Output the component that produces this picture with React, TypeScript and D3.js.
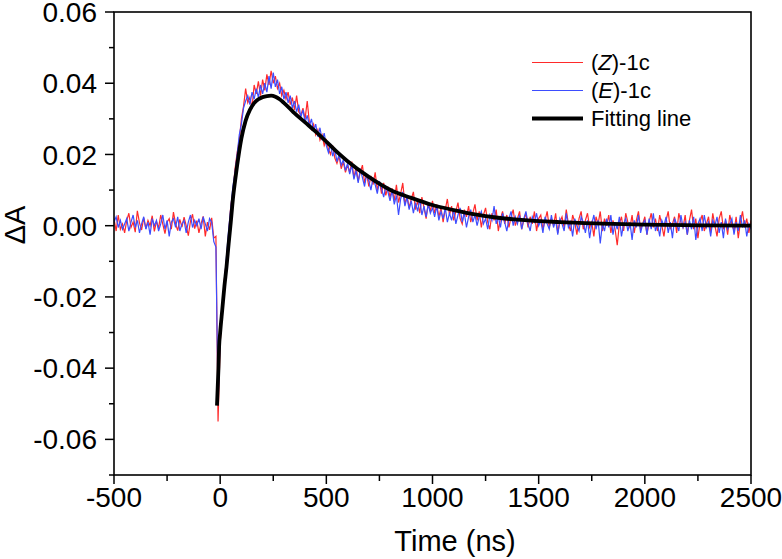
import React from "react";
import * as d3 from "d3";

// Sample times (ns), 10 ns step
const timeNs: number[] = d3.range(-500, 2501, 10);

// (Z)-1c transient absorption (red)
const zSignal: number[] = [
  // -500 .. -30
  0.0020, -0.0015, 0.0030, -0.0010, 0.0005, -0.0020, 0.0015, 0.0035, -0.0005, 0.0010,
  -0.0018, 0.0042, 0.0008, -0.0012, 0.0022, -0.0008, 0.0015, 0.0000, 0.0028, -0.0016,
  0.0012, -0.0006, 0.0030, 0.0004, -0.0022, 0.0010, 0.0020, -0.0010, 0.0038, 0.0006,
  -0.0014, 0.0018, -0.0004, 0.0024, 0.0000, -0.0028, 0.0012, 0.0032, -0.0008, 0.0014,
  -0.0020, 0.0006, 0.0026, -0.0030, 0.0010, -0.0012, 0.0022, -0.0035,
  // -20, -10
  -0.0030, -0.0550,
  // 0 .. 600
  -0.0330, -0.0235, -0.0150, -0.0095, -0.0020, 0.0055, 0.0095, 0.0160, 0.0205, 0.0240,
  0.0300, 0.0335, 0.0385, 0.0345, 0.0360, 0.0330, 0.0395, 0.0370, 0.0405, 0.0365,
  0.0410, 0.0380, 0.0425, 0.0395, 0.0435, 0.0400, 0.0420, 0.0385, 0.0400, 0.0365,
  0.0380, 0.0355, 0.0375, 0.0340, 0.0360, 0.0325, 0.0365, 0.0320, 0.0310, 0.0330,
  0.0300, 0.0350, 0.0290, 0.0270, 0.0285, 0.0255, 0.0270, 0.0240, 0.0255, 0.0225,
  0.0240, 0.0215, 0.0200, 0.0225, 0.0190, 0.0175, 0.0195, 0.0160, 0.0180, 0.0150,
  0.0170,
  // 610 .. 1000
  0.0150, 0.0180, 0.0135, 0.0165, 0.0125, 0.0150, 0.0170, 0.0120, 0.0145, 0.0110,
  0.0140, 0.0115, 0.0150, 0.0100, 0.0125, 0.0090, 0.0120, 0.0085, 0.0110, 0.0080,
  0.0105, 0.0070, 0.0115, 0.0065, 0.0090, 0.0120, 0.0060, 0.0085, 0.0050, 0.0075,
  0.0095, 0.0045, 0.0070, 0.0035, 0.0080, 0.0050, 0.0020, 0.0065, 0.0040, 0.0070,
  // 1010 .. 1500
  0.0035, 0.0060, 0.0025, 0.0050, 0.0010, 0.0045, 0.0075, 0.0030, 0.0055, 0.0015,
  0.0040, 0.0065, 0.0020, 0.0005, 0.0045, 0.0025, 0.0055, 0.0010, 0.0035, 0.0060,
  0.0015, 0.0040, -0.0005, 0.0030, 0.0050, 0.0010, -0.0010, 0.0035, 0.0015, 0.0045,
  -0.0015, 0.0020, 0.0040, 0.0005, 0.0030, -0.0005, 0.0025, 0.0045, 0.0000, 0.0020,
  0.0040, -0.0010, 0.0015, 0.0035, -0.0005, 0.0025, 0.0005, 0.0040, -0.0015, 0.0020,
  // 1510 .. 2500
  0.0030, -0.0010, 0.0015, 0.0040, -0.0005, 0.0020, 0.0000, 0.0035, -0.0020, 0.0010,
  0.0025, -0.0005, 0.0045, 0.0005, -0.0015, 0.0030, 0.0010, -0.0025, 0.0020, 0.0040,
  -0.0010, 0.0015, 0.0035, -0.0005, 0.0010, -0.0030, 0.0025, 0.0005, 0.0040, -0.0015,
  0.0020, 0.0000, 0.0030, -0.0020, 0.0015, -0.0010, -0.0055, 0.0005, 0.0025, -0.0015,
  0.0035, 0.0010, -0.0005, 0.0030, -0.0020, 0.0015, 0.0040, -0.0010, 0.0005, 0.0025,
  -0.0025, 0.0010, 0.0035, -0.0005, 0.0020, -0.0015, 0.0030, 0.0000, -0.0030, 0.0015,
  0.0040, -0.0010, 0.0005, 0.0025, -0.0020, 0.0035, 0.0010, -0.0005, 0.0030, -0.0025,
  0.0015, 0.0045, -0.0010, 0.0020, -0.0035, 0.0010, 0.0030, -0.0015, 0.0005, 0.0025,
  -0.0020, 0.0035, 0.0000, -0.0030, 0.0020, 0.0040, -0.0010, 0.0015, -0.0025, 0.0030,
  0.0005, -0.0015, 0.0025, -0.0035, 0.0010, 0.0040, -0.0005, 0.0020, -0.0020, 0.0015,
];

// (E)-1c transient absorption (blue)
const eSignal: number[] = [
  // -500 .. -30
  0.0010, 0.0025, -0.0005, 0.0015, -0.0010, 0.0005, 0.0020, -0.0015, 0.0010, 0.0030,
  -0.0005, 0.0015, -0.0020, 0.0005, 0.0025, -0.0010, 0.0010, -0.0025, 0.0020, 0.0000,
  0.0015, -0.0015, 0.0005, 0.0030, -0.0010, 0.0015, -0.0030, 0.0010, 0.0020, -0.0005,
  0.0025, -0.0015, 0.0005, 0.0015, -0.0020, 0.0010, 0.0030, -0.0005, 0.0015, 0.0000,
  0.0020, -0.0010, 0.0025, 0.0005, -0.0015, 0.0020, 0.0010, -0.0045,
  // -20, -10
  -0.0060, -0.0500,
  // 0 .. 600
  -0.0310, -0.0225, -0.0160, -0.0085, -0.0010, 0.0050, 0.0110, 0.0150, 0.0200, 0.0255,
  0.0285, 0.0330, 0.0350, 0.0365, 0.0340, 0.0375, 0.0355, 0.0385, 0.0360, 0.0395,
  0.0370, 0.0400, 0.0375, 0.0420, 0.0385, 0.0430, 0.0390, 0.0410, 0.0370, 0.0390,
  0.0355, 0.0375, 0.0345, 0.0365, 0.0330, 0.0350, 0.0320, 0.0340, 0.0305, 0.0325,
  0.0290, 0.0310, 0.0280, 0.0300, 0.0265, 0.0285, 0.0250, 0.0275, 0.0240, 0.0260,
  0.0225, 0.0205, 0.0230, 0.0195, 0.0215, 0.0180, 0.0200, 0.0170, 0.0185, 0.0155,
  0.0175,
  // 610 .. 1000
  0.0145, 0.0170, 0.0130, 0.0155, 0.0120, 0.0160, 0.0135, 0.0110, 0.0145, 0.0125,
  0.0100, 0.0135, 0.0115, 0.0090, 0.0125, 0.0105, 0.0080, 0.0110, 0.0095, 0.0070,
  0.0100, 0.0060, 0.0085, 0.0030, 0.0075, 0.0095, 0.0055, 0.0080, 0.0045, 0.0070,
  0.0035, 0.0065, 0.0040, 0.0075, 0.0030, 0.0055, 0.0025, 0.0060, 0.0035, 0.0050,
  // 1010 .. 1500
  0.0025, 0.0055, 0.0015, 0.0040, 0.0020, 0.0050, 0.0010, 0.0035, 0.0015, 0.0045,
  0.0005, 0.0030, 0.0050, 0.0010, 0.0035, -0.0005, 0.0025, 0.0045, 0.0010, 0.0030,
  0.0000, 0.0025, 0.0040, 0.0005, 0.0020, -0.0010, 0.0030, 0.0015, 0.0055, 0.0005,
  0.0025, -0.0005, 0.0035, 0.0010, -0.0015, 0.0020, 0.0040, 0.0000, 0.0025, 0.0005,
  0.0030, -0.0010, 0.0020, 0.0040, 0.0005, -0.0015, 0.0025, 0.0010, 0.0035, 0.0000,
  // 1510 .. 2500
  0.0015, -0.0020, 0.0025, 0.0005, -0.0010, 0.0030, -0.0005, 0.0015, -0.0025, 0.0020,
  0.0005, -0.0015, 0.0035, -0.0005, 0.0010, -0.0030, 0.0020, 0.0000, -0.0015, 0.0025,
  0.0010, -0.0020, 0.0015, -0.0035, 0.0005, 0.0030, -0.0010, 0.0015, -0.0050, 0.0005,
  -0.0015, 0.0020, -0.0005, 0.0030, -0.0025, 0.0010, -0.0010, 0.0025, -0.0030, 0.0005,
  0.0020, -0.0015, 0.0010, -0.0040, 0.0015, -0.0005, 0.0030, -0.0020, 0.0005, 0.0015,
  -0.0025, 0.0020, -0.0010, 0.0035, -0.0015, 0.0005, -0.0030, 0.0015, 0.0000, 0.0025,
  -0.0020, 0.0010, -0.0035, 0.0020, 0.0005, -0.0015, 0.0030, -0.0005, 0.0010, -0.0025,
  0.0015, -0.0010, 0.0025, -0.0040, 0.0005, 0.0020, -0.0015, 0.0030, -0.0005, 0.0010,
  -0.0030, 0.0015, 0.0000, 0.0025, -0.0020, 0.0010, -0.0035, 0.0020, -0.0010, 0.0005,
  0.0020, -0.0025, 0.0010, -0.0015, 0.0030, -0.0005, 0.0015, -0.0030, 0.0005, -0.0010,
];

// Fitting line
const fitTime: number[] = [
  -15, -8, -5, 0, 10, 20, 30, 40, 50, 60, 70, 80, 90, 100, 120, 140, 160, 180, 200, 220,
  240, 260, 280, 300, 325, 350, 400, 450, 500, 550, 600, 700, 800, 900, 1000, 1100, 1200,
  1300, 1400, 1600, 1800, 2000, 2250, 2500,
];
const fitValue: number[] = [
  -0.0505, -0.040, -0.034, -0.030, -0.0235, -0.017, -0.0115, -0.005, 0.001, 0.0075,
  0.0125, 0.017, 0.021, 0.0245, 0.0295, 0.0325, 0.0344, 0.0355, 0.0361, 0.0364,
  0.0365, 0.0362, 0.0355, 0.0345, 0.0331, 0.0316, 0.0290, 0.0264, 0.0236, 0.0207,
  0.0181, 0.0137, 0.0101, 0.0078, 0.0058, 0.0044, 0.0032, 0.0023, 0.0017, 0.0010,
  0.0006, 0.0003, 0.0001, 0.0000,
];

const xTicks: number[] = [-500, 0, 500, 1000, 1500, 2000, 2500];
const xMinorTicks: number[] = [-250, 250, 750, 1250, 1750, 2250];
const yTicks: number[] = [-0.06, -0.04, -0.02, 0.0, 0.02, 0.04, 0.06];
const yMinorTicks: number[] = [-0.07, -0.05, -0.03, -0.01, 0.01, 0.03, 0.05];

const seriesNames = ["Z", "E"];
const seriesColors = ["#ff2a2a", "#3d4dff"];
const fitLabel = "Fitting line";
const xTitle = "Time (ns)";
const yTitle = "\u0394A";

const W = 782;
const H = 559;
const M = { left: 114, right: 751, top: 12, bottom: 475 };
const FONT = "'Liberation Sans', Arial, Helvetica, sans-serif";

export default function App() {
  const x = d3.scaleLinear().domain([-500, 2500]).range([M.left, M.right]);
  const y = d3.scaleLinear().domain([-0.07, 0.06]).range([M.bottom, M.top]);

  const dataLine = d3
    .line<number>()
    .x((_, i) => x(timeNs[i]))
    .y((d) => y(d));

  const fitLine = d3
    .line<number>()
    .x((_, i) => x(fitTime[i]))
    .y((d) => y(d))
    .curve(d3.curveMonotoneX);

  const legendX0 = 532;
  const legendX1 = 583;
  const legendRows = [62.5, 90.5, 118.5];

  return (
    <svg
      width={W}
      height={H}
      style={{ position: "absolute", left: 0, top: 0, background: "#fff" }}
      fontFamily={FONT}
    >
      <defs>
        <clipPath id="plotClip">
          <rect x={M.left} y={M.top} width={M.right - M.left} height={M.bottom - M.top} />
        </clipPath>
      </defs>

      <g clipPath="url(#plotClip)">
        <path d={dataLine(zSignal) || ""} fill="none" stroke={seriesColors[0]} strokeWidth={1.2} />
        <path d={dataLine(eSignal) || ""} fill="none" stroke={seriesColors[1]} strokeWidth={1.2} />
        <path d={fitLine(fitValue) || ""} fill="none" stroke="#000" strokeWidth={3.8} />
      </g>

      {/* frame */}
      <rect
        x={M.left}
        y={M.top}
        width={M.right - M.left}
        height={M.bottom - M.top}
        fill="none"
        stroke="#000"
        strokeWidth={1.6}
      />

      {/* y ticks */}
      {yTicks.map((t) => (
        <g key={"y" + t}>
          <line x1={M.left - 9} x2={M.left} y1={y(t)} y2={y(t)} stroke="#000" strokeWidth={1.5} />
          <text
            x={M.left - 17}
            y={y(t)}
            dy="0.36em"
            textAnchor="end"
            fontSize={28}
            fill="#000"
          >
            {t.toFixed(2)}
          </text>
        </g>
      ))}
      {yMinorTicks.map((t) => (
        <line key={"ym" + t} x1={M.left - 5} x2={M.left} y1={y(t)} y2={y(t)} stroke="#000" strokeWidth={1.5} />
      ))}

      {/* x ticks */}
      {xTicks.map((t) => (
        <g key={"x" + t}>
          <line x1={x(t)} x2={x(t)} y1={M.bottom} y2={M.bottom + 9} stroke="#000" strokeWidth={1.5} />
          <text x={x(t)} y={M.bottom + 32} textAnchor="middle" fontSize={28} fill="#000">
            {String(t)}
          </text>
        </g>
      ))}
      {xMinorTicks.map((t) => (
        <line key={"xm" + t} x1={x(t)} x2={x(t)} y1={M.bottom} y2={M.bottom + 6} stroke="#000" strokeWidth={1.5} />
      ))}

      {/* axis titles */}
      <text x={455} y={551} textAnchor="middle" fontSize={29} fill="#000">
        {xTitle}
      </text>
      <text
        transform={`translate(25, 225) rotate(-90)`}
        textAnchor="middle"
        fontSize={29}
        fill="#000"
      >
        {yTitle}
      </text>

      {/* legend */}
      {seriesNames.map((n, i) => (
        <g key={"lg" + n}>
          <line
            x1={legendX0}
            x2={legendX1}
            y1={legendRows[i]}
            y2={legendRows[i]}
            stroke={seriesColors[i]}
            strokeWidth={1.2}
          />
          <text x={591} y={legendRows[i]} dy="0.35em" fontSize={22} fill="#000">
            (<tspan fontStyle="italic">{n}</tspan>)-1c
          </text>
        </g>
      ))}
      <line
        x1={legendX0}
        x2={legendX1}
        y1={legendRows[2]}
        y2={legendRows[2]}
        stroke="#000"
        strokeWidth={4}
      />
      <text x={591} y={legendRows[2]} dy="0.35em" fontSize={22} fill="#000">
        {fitLabel}
      </text>
    </svg>
  );
}
